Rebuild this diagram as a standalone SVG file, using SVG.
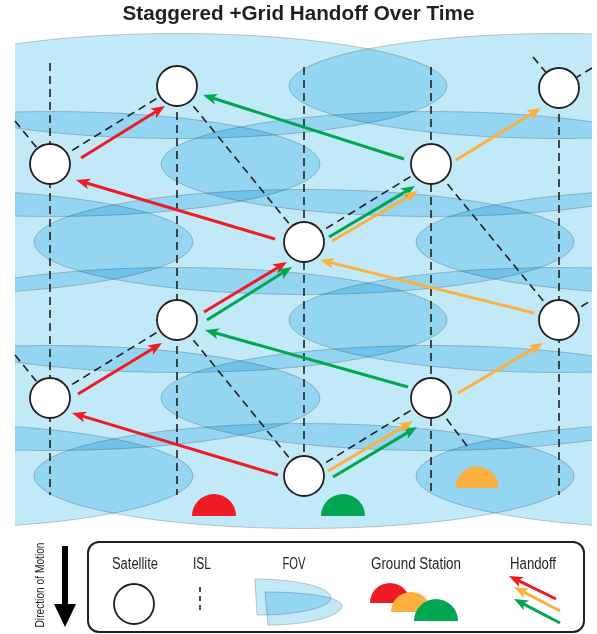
<svg xmlns="http://www.w3.org/2000/svg" width="597" height="634" viewBox="0 0 597 634">
<defs>
<style>
.fov{fill:#c2e9f8;stroke:#8a9aa3;stroke-opacity:0.55;stroke-width:1;mix-blend-mode:multiply}
.isl{fill:none;stroke:#231f20;stroke-width:1.6;stroke-dasharray:8 5}
.sat{fill:#fff;stroke:#231f20;stroke-width:1.8}
.ho{fill:none;stroke-width:3}
.red{stroke:#ed1c24;marker-end:url(#ahR)}
.grn{stroke:#00a651;marker-end:url(#ahG)}
.org{stroke:#fbb040;marker-end:url(#ahO)}
.lbl{font-family:"Liberation Sans",Arial,sans-serif;font-size:16px;fill:#231f20;text-anchor:middle}
.title{font-family:"Liberation Sans",Arial,sans-serif;font-size:21px;font-weight:bold;fill:#231f20;text-anchor:middle}
</style>
<clipPath id="clip"><rect x="15" y="0" width="577" height="545"/></clipPath>
<marker id="ahR" markerUnits="userSpaceOnUse" markerWidth="14" markerHeight="11" refX="4" refY="5.5" orient="auto"><path d="M0,0 L14,5.5 L0,11 L3.5,5.5 Z" fill="#ed1c24"/></marker>
<marker id="ahG" markerUnits="userSpaceOnUse" markerWidth="14" markerHeight="11" refX="4" refY="5.5" orient="auto"><path d="M0,0 L14,5.5 L0,11 L3.5,5.5 Z" fill="#00a651"/></marker>
<marker id="ahO" markerUnits="userSpaceOnUse" markerWidth="14" markerHeight="11" refX="4" refY="5.5" orient="auto"><path d="M0,0 L14,5.5 L0,11 L3.5,5.5 Z" fill="#fbb040"/></marker>
</defs>
<rect x="0" y="0" width="597" height="634" fill="#fff"/>
<text class="title" x="298.5" y="20" textLength="352" lengthAdjust="spacingAndGlyphs">Staggered +Grid Handoff Over Time</text>

<g id="fov-layer" clip-path="url(#clip)">
<ellipse class="fov" cx="177" cy="86" rx="270" ry="52.5"/>
<ellipse class="fov" cx="559" cy="86" rx="270" ry="52.5"/>
<ellipse class="fov" cx="50" cy="164" rx="270" ry="52.5"/>
<ellipse class="fov" cx="431" cy="164" rx="270" ry="52.5"/>
<ellipse class="fov" cx="-77" cy="242" rx="270" ry="52.5"/>
<ellipse class="fov" cx="304" cy="242" rx="270" ry="52.5"/>
<ellipse class="fov" cx="686" cy="242" rx="270" ry="52.5"/>
<ellipse class="fov" cx="177" cy="320" rx="270" ry="52.5"/>
<ellipse class="fov" cx="559" cy="320" rx="270" ry="52.5"/>
<ellipse class="fov" cx="50" cy="398" rx="270" ry="52.5"/>
<ellipse class="fov" cx="431" cy="398" rx="270" ry="52.5"/>
<ellipse class="fov" cx="-77" cy="476" rx="270" ry="52.5"/>
<ellipse class="fov" cx="304" cy="476" rx="270" ry="52.5"/>
<ellipse class="fov" cx="686" cy="476" rx="270" ry="52.5"/>
</g>

<g id="gs-red"><path d="M192,516 A22,22 0 0 1 236,516 Z" fill="#ed1c24"/></g>
<g id="gs-green"><path d="M321,516 A22,22 0 0 1 365,516 Z" fill="#00a651"/></g>
<g id="gs-orange"><path d="M455.5,488 A21.5,21.5 0 0 1 498.5,488 Z" fill="#fbb040"/></g>

<g id="connectors">
<g id="isl">
<line class="isl" x1="50" y1="63" x2="50" y2="495"/>
<line class="isl" x1="177" y1="86" x2="177" y2="495"/>
<line class="isl" x1="304" y1="67" x2="304" y2="495"/>
<line class="isl" x1="431" y1="67" x2="431" y2="495"/>
<line class="isl" x1="559" y1="88" x2="559" y2="495"/>
<line class="isl" x1="15" y1="121" x2="50" y2="164"/>
<line class="isl" x1="50" y1="164" x2="177" y2="86"/>
<line class="isl" x1="177" y1="86" x2="304" y2="242"/>
<line class="isl" x1="304" y1="242" x2="431" y2="164"/>
<line class="isl" x1="431" y1="164" x2="559" y2="320"/>
<line class="isl" x1="559" y1="320" x2="592" y2="300"/>
<line class="isl" x1="15" y1="355" x2="50" y2="398"/>
<line class="isl" x1="50" y1="398" x2="177" y2="320"/>
<line class="isl" x1="177" y1="320" x2="304" y2="476"/>
<line class="isl" x1="304" y1="476" x2="431" y2="398"/>
<line class="isl" x1="431" y1="398" x2="467" y2="446"/>
<line class="isl" x1="533" y1="57" x2="559" y2="88"/>
<line class="isl" x1="592" y1="68" x2="559" y2="88"/>
</g>
<g id="handoffs">
<line class="ho red" x1="81" y1="158" x2="156.5" y2="111.3"/>
<line class="ho red" x1="275" y1="239" x2="85.6" y2="182.8"/>
<line class="ho red" x1="204" y1="312" x2="278.4" y2="267.2"/>
<line class="ho red" x1="78" y1="394" x2="153.5" y2="348.2"/>
<line class="ho red" x1="278" y1="475" x2="81.6" y2="415.9"/>
<line class="ho grn" x1="404" y1="159" x2="212.5" y2="98"/>
<line class="ho grn" x1="329" y1="237" x2="406.4" y2="191.1"/>
<line class="ho grn" x1="207" y1="320" x2="283.5" y2="272.3"/>
<line class="ho grn" x1="408" y1="387" x2="214.6" y2="332.7"/>
<line class="ho grn" x1="333" y1="477" x2="408.4" y2="432.1"/>
<line class="ho org" x1="456" y1="160" x2="532.5" y2="113.2"/>
<line class="ho org" x1="332" y1="241" x2="409.4" y2="196"/>
<line class="ho org" x1="534" y1="313" x2="329.7" y2="262.4"/>
<line class="ho org" x1="458" y1="393" x2="534.4" y2="348.1"/>
<line class="ho org" x1="328" y1="471" x2="404.4" y2="426.1"/>
</g>
</g>

<g id="sat-1"><circle class="sat" cx="177" cy="86" r="20"/></g>
<g id="sat-2"><circle class="sat" cx="50" cy="164" r="20"/></g>
<g id="sat-3"><circle class="sat" cx="431" cy="164" r="20"/></g>
<g id="sat-4"><circle class="sat" cx="559" cy="88" r="20"/></g>
<g id="sat-5"><circle class="sat" cx="304" cy="242" r="20"/></g>
<g id="sat-6"><circle class="sat" cx="177" cy="320" r="20"/></g>
<g id="sat-7"><circle class="sat" cx="559" cy="320" r="20"/></g>
<g id="sat-8"><circle class="sat" cx="50" cy="398" r="20"/></g>
<g id="sat-9"><circle class="sat" cx="431" cy="398" r="20"/></g>
<g id="sat-10"><circle class="sat" cx="304" cy="476" r="20"/></g>

<g id="direction">
<text font-family="'Liberation Sans',Arial,sans-serif" font-size="12" fill="#231f20" text-anchor="middle" transform="translate(44,585) rotate(-90)" textLength="85" lengthAdjust="spacingAndGlyphs">Direction of Motion</text>
<path d="M62,546 L68,546 L68,604 L76,604 L65,627 L54,604 L62,604 Z" fill="#000"/>
</g>

<g id="legend">
<rect x="88" y="542" width="496" height="90" rx="11" ry="11" fill="#fff" stroke="#231f20" stroke-width="2"/>
<text class="lbl" x="135" y="569" textLength="46" lengthAdjust="spacingAndGlyphs">Satellite</text>
<circle class="sat" cx="134" cy="604" r="20"/>
<text class="lbl" x="202" y="569" textLength="18" lengthAdjust="spacingAndGlyphs">ISL</text>
<line x1="200" y1="587" x2="200" y2="611" stroke="#231f20" stroke-width="1.6" stroke-dasharray="5 4"/>
<text class="lbl" x="294" y="569" textLength="23" lengthAdjust="spacingAndGlyphs">FOV</text>
<path class="fov" d="M255,579 C300,579 331,588 331,598 C331,607 300,615 257,615 Z"/>
<path class="fov" d="M265,592 C312,592 342,598 342,606 C342,615 312,625 268,625 Z"/>
<text class="lbl" x="416" y="569" textLength="90" lengthAdjust="spacingAndGlyphs">Ground Station</text>
<path d="M370,603 A20,20 0 0 1 410,603 Z" fill="#ed1c24"/>
<path d="M391,612 A20,20 0 0 1 431,612 Z" fill="#fbb040"/>
<path d="M414,621 A22,22 0 0 1 458,621 Z" fill="#00a651"/>
<text class="lbl" x="533" y="569" textLength="46" lengthAdjust="spacingAndGlyphs">Handoff</text>
<line class="ho red" x1="556" y1="599" x2="518" y2="580.4"/>
<line class="ho org" x1="560" y1="611" x2="522.9" y2="591.6"/>
<line class="ho grn" x1="560" y1="623" x2="522.9" y2="603.6"/>
</g>
</svg>
